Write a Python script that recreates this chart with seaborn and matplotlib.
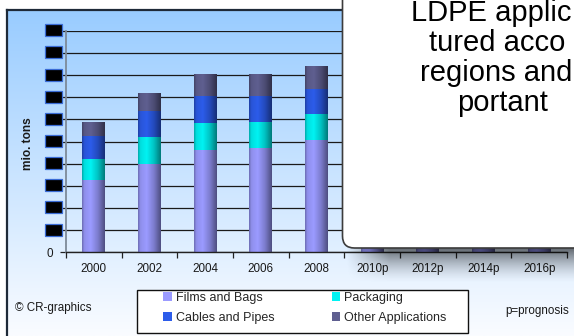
import numpy as np
import pandas as pd
import matplotlib
matplotlib.use("Agg")
import matplotlib.pyplot as plt
import seaborn as sns
from matplotlib.patches import Rectangle, FancyBboxPatch, Patch

# ---------------- data ----------------
years = ["2000", "2002", "2004", "2006", "2008", "2010p", "2012p", "2014p", "2016p"]
films = [6.5, 8.0, 9.2, 9.4, 10.1, 10.5, 11.0, 11.6, 12.2]
packaging = [1.9, 2.45, 2.45, 2.35, 2.35, 2.4, 2.5, 2.6, 2.7]
cables = [2.1, 2.3, 2.5, 2.35, 2.25, 2.3, 2.4, 2.5, 2.6]
other = [1.25, 1.6, 1.9, 2.0, 2.15, 2.2, 2.3, 2.4, 2.5]
series_names = ["Films and Bags", "Packaging", "Cables and Pipes", "Other Applications"]
y_ticks = [0, 2, 4, 6, 8, 10, 12, 14, 16, 18, 20]
box_lines = ["LDPE applic", "tured acco", "regions and", "portant"]

colors = {"Films and Bags": "#9B9BFF",
          "Packaging": "#00F2F2",
          "Cables and Pipes": "#2C5CEA",
          "Other Applications": "#5F5F90"}

# ---------------- figure ----------------
sns.set_style("white")
plt.rcParams["font.family"] = ["Liberation Sans", "DejaVu Sans"]

W, H = 574, 336
fig = plt.figure(figsize=(W / 100, H / 100), dpi=100)
fig.patch.set_facecolor("white")

# background (pixel coordinates)
ax_b = fig.add_axes([0, 0, 1, 1], zorder=0)
ax_b.axis("off")
top = np.array([153, 204, 255]) / 255
bot = np.array([250, 252, 255]) / 255
t = np.linspace(0, 1, 256)[:, None]
grad = top[None, :] * (1 - t) + bot[None, :] * t
ax_b.imshow(grad[:, None, :], extent=(7, W, H, 10), aspect="auto", origin="upper",
            interpolation="bilinear")
ax_b.plot([7, 7], [H, 10], color="#1e2a38", lw=1.6, solid_capstyle="projecting")
ax_b.plot([7, W], [10, 10], color="#1e2a38", lw=1.6, solid_capstyle="projecting")
ax_b.set_xlim(0, W)
ax_b.set_ylim(H, 0)

# main axes
x0p, x1p, y0p, y1p = 66, 567, 252.3, 30.7
ax = fig.add_axes([x0p / W, (H - y0p) / H, (x1p - x0p) / W, (y0p - y1p) / H], zorder=1)
ax.set_facecolor("none")

df = pd.DataFrame({"year": years, "films": films, "packaging": packaging,
                   "cables": cables, "other": other})
df["c1"] = df["films"]
df["c2"] = df["c1"] + df["packaging"]
df["c3"] = df["c2"] + df["cables"]
df["c4"] = df["c3"] + df["other"]

profile_t = np.linspace(0, 1, 64)
profile_a = np.interp(profile_t, [0, 0.1, 0.38, 0.7, 1.0], [0.30, 0.08, 0.0, 0.2, 0.5])
shade = np.zeros((1, 64, 4))
shade[..., 3] = profile_a

layers = [("c4", "Other Applications"), ("c3", "Cables and Pipes"),
          ("c2", "Packaging"), ("c1", "Films and Bags")]
for k, (col, name) in enumerate(layers):
    n0 = len(ax.patches)
    sns.barplot(data=df, x="year", y=col, order=years, color=colors[name],
                saturation=1, width=0.41, errorbar=None, linewidth=0, ax=ax)
    z = 1.0 + k * 0.1
    for p in ax.patches[n0:]:
        p.set_zorder(z)
        bx, by = p.get_x(), p.get_y()
        bw, bh = p.get_width(), p.get_height()
        im = ax.imshow(shade, extent=(bx, bx + bw, by, by + bh), aspect="auto",
                       interpolation="bilinear", zorder=z + 0.05)
        im.set_clip_path(p)

ax.set_xlim(-0.5, len(years) - 0.5)
ax.set_ylim(y_ticks[0], y_ticks[-1])
ax.set_xlabel("")
ax.set_ylabel("")

# x axis: ticks at category boundaries, labels at centres
ax.set_xticks(np.arange(-0.5, len(years), 1.0), labels=[""] * (len(years) + 1))
ax.set_xticks(np.arange(len(years)), labels=years, minor=True)
ax.tick_params(axis="x", which="major", length=4, width=0.9, color="#222222",
               direction="out", bottom=True)
ax.tick_params(axis="x", which="minor", length=0, pad=8, labelsize=8.4,
               labelcolor="#1a1a1a", bottom=True)

ax.set_yticks(y_ticks, labels=[str(v) for v in y_ticks])
ax.tick_params(axis="y", length=4, width=0.9, color="#222222", direction="out",
               pad=5.6, labelsize=8.4, labelcolor="#1a1a1a", left=True)
# the reference hides every y label except 0 behind black blocks
for lbl in ax.get_yticklabels()[1:]:
    lbl.set_fontsize(5.5)
    lbl.set_color("black")

ax.yaxis.grid(True, color="#1a1a1a", lw=0.9)
ax.xaxis.grid(False)
ax.set_axisbelow(True)
for s in ["top", "right"]:
    ax.spines[s].set_visible(False)
ax.spines["left"].set_color("#7d8a98")
ax.spines["left"].set_linewidth(1.3)
ax.spines["bottom"].set_color("#222222")
ax.spines["bottom"].set_linewidth(1.0)

# overlay (pixel coordinates)
ax_o = fig.add_axes([0, 0, 1, 1], zorder=3)
ax_o.axis("off")
ax_o.patch.set_alpha(0)
ax_o.set_xlim(0, W)
ax_o.set_ylim(H, 0)

# redacted tick-label blocks
for v in y_ticks[1:]:
    yd = ax.transData.transform((0, v))[1]
    yp = H - yd
    ax_o.add_patch(Rectangle((44.5, yp - 6.5), 17, 12, facecolor="black",
                             edgecolor="#3a6cd6", lw=0.9))

# y label
ax_o.text(28, 144, "mio. tons", rotation=90, fontsize=8.6, fontweight="bold",
          ha="center", va="center", color="#1a1a1a")

# shadow under the text box
sh_h, sh_w = 80, 200
yy = np.linspace(0, 1, sh_h)[:, None]
xx = np.linspace(0, 1, sh_w)[None, :]
alpha_y = 0.62 * np.clip(1 - yy, 0, 1) ** 1.6
alpha_x = np.clip(xx / 0.16, 0, 1)
shadow = np.zeros((sh_h, sh_w, 4))
shadow[..., 3] = alpha_y * alpha_x
ax_o.imshow(shadow, extent=(346, W + 40, 284, 246), aspect="auto", origin="upper",
            interpolation="bilinear", zorder=1)

# text box
ax_o.add_patch(FancyBboxPatch((342.5, -80), 500, 80 + 248,
                              boxstyle="round,pad=0,rounding_size=12",
                              facecolor="white", edgecolor="#3c3c3c", lw=1.2, zorder=2))
starts = [411, 429, 420, 457]
baselines = [21, 51, 81, 111]
for s, xs, yb in zip(box_lines, starts, baselines):
    ax_o.text(xs, yb, s, fontsize=21, ha="left", va="baseline", color="black",
              zorder=3, clip_on=False)

# legend frame
ax_o.add_patch(Rectangle((137, 290), 331, 43, facecolor="white", edgecolor="#111111",
                         lw=1.0, zorder=2))
ax_o.set_xlim(0, W)
ax_o.set_ylim(H, 0)

handles = [Patch(facecolor=colors[n], edgecolor="none") for n in series_names]
order = [0, 2, 1, 3]
fig.legend([handles[i] for i in order], [series_names[i] for i in order],
           ncol=2, loc="upper left", bbox_to_anchor=(163 / W, 1 - 292 / H),
           frameon=False, fontsize=9, handlelength=0.7, handleheight=0.7,
           handletextpad=0.3, columnspacing=4.6, labelspacing=0.6,
           borderpad=0, borderaxespad=0)

fig.text(15 / W, 1 - 308 / H, "\u00a9 CR-graphics", fontsize=8.4, ha="left",
         va="center", color="#1a1a1a")
fig.text(505 / W, 1 - 311 / H, "p=prognosis", fontsize=8.4, ha="left",
         va="center", color="#1a1a1a")

fig.savefig("out.png", dpi=100)
